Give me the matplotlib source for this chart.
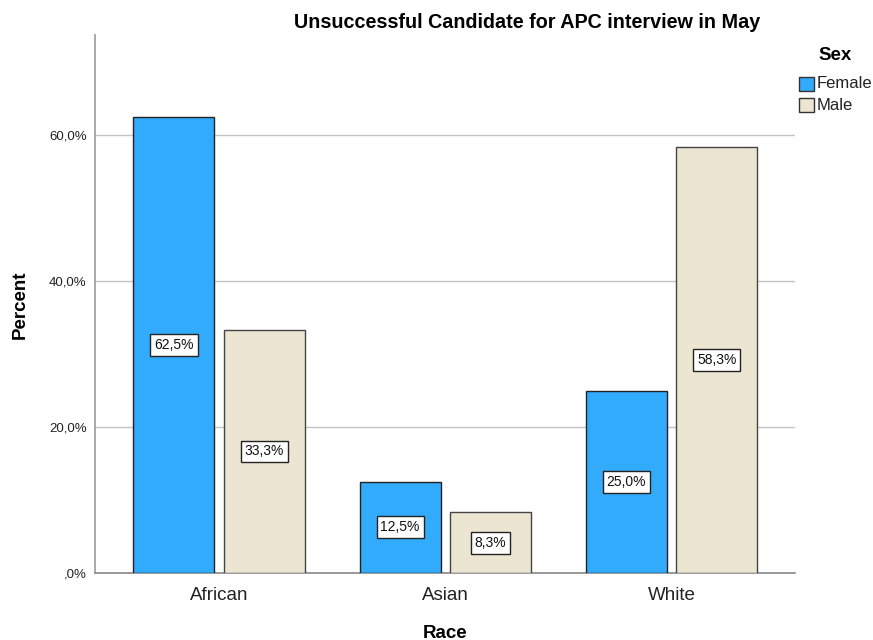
import matplotlib
matplotlib.use("Agg")
import matplotlib.pyplot as plt
import numpy as np
from matplotlib.patches import Rectangle

plt.rcParams['font.family'] = ['Liberation Sans', 'DejaVu Sans']

categories = ["African", "Asian", "White"]
female = [62.5, 12.5, 25.0]
male = [33.3, 8.3, 58.3]
yticks = [0, 20, 40, 60]
ytick_labels = [",0%", "20,0%", "40,0%", "60,0%"]

fig = plt.figure(figsize=(8.73, 6.4), dpi=100)
ax = fig.add_axes([95/873, 1-573/640, 700/873, 538/640])

x = np.arange(len(categories))
w = 0.358
off = 0.2
c_f = "#32abfc"
c_m = "#ebe5d2"
bf = ax.bar(x - off, female, w, color=c_f, edgecolor="#222222", linewidth=1.0, zorder=3)
bm = ax.bar(x + off, male, w, color=c_m, edgecolor="#444444", linewidth=1.0, zorder=3)

def fmt(v):
    return f"{v:.1f}".replace(".", ",") + "%"

for bars, vals in ((bf, female), (bm, male)):
    for b, v in zip(bars, vals):
        ax.text(b.get_x() + b.get_width()/2, v/2, fmt(v), ha="center", va="center",
                fontsize=10, zorder=5, color="#111111",
                bbox=dict(boxstyle="square,pad=0.28", facecolor="white", edgecolor="#222222", linewidth=1))

ax.set_xlim(-0.549, 2.546)
ax.set_ylim(0, 73.7)
ax.set_yticks(yticks)
ax.set_yticklabels(ytick_labels, fontsize=9.5)
ax.set_xticks(x)
ax.set_xticklabels(categories, fontsize=13.5)
ax.tick_params(axis="both", length=0, pad=6)
ax.tick_params(axis="x", pad=10)
for t in ax.get_yticklabels():
    t.set_color("#222222")
for t in ax.get_xticklabels():
    t.set_color("#222222")
for yv in yticks[1:]:
    ax.axhline(yv, color="#c4c4c4", linewidth=1, zorder=1)
for s in ("top", "right"):
    ax.spines[s].set_visible(False)
ax.spines["left"].set_color("#999999")
ax.spines["bottom"].set_color("#888888")
ax.spines["left"].set_linewidth(1.2)
ax.spines["bottom"].set_linewidth(1.2)

fig.text(527/873, 1-22/640, "Unsuccessful Candidate for APC interview in May",
         ha="center", va="center", fontsize=14.2, fontweight="bold")
fig.text(445/873, 1-633/640, "Race", ha="center", va="center", fontsize=13.5, fontweight="bold")
fig.text(20/873, 1-305/640, "Percent", ha="center", va="center", rotation=90, fontsize=13.5, fontweight="bold")

fig.text(835/873, 1-55/640, "Sex", ha="center", va="center", fontsize=13.5, fontweight="bold")
for i, (lab, col) in enumerate((("Female", c_f), ("Male", c_m))):
    yc = 84 + i*21
    fig.patches.append(Rectangle((799/873, 1-(yc+7)/640), 15/873, 14/640,
                                 transform=fig.transFigure, facecolor=col,
                                 edgecolor="#333333", linewidth=1.0))
    fig.text(817/873, 1-yc/640, lab, ha="left", va="center", fontsize=12, color="#222222")

fig.savefig("out.png", dpi=100)
